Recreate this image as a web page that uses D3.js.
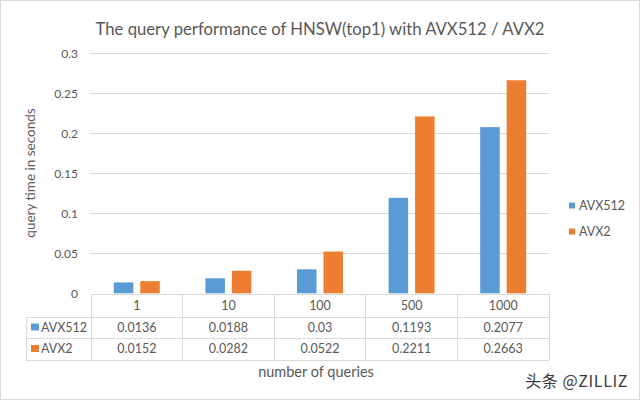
<!DOCTYPE html>
<html><head><meta charset="utf-8">
<script src="https://cdn.jsdelivr.net/npm/d3@7"></script>
<style>
html,body{margin:0;padding:0;background:#fff;}
text{font-family:Lato,"Open Sans",sans-serif;fill:#595959;}
</style></head>
<body><svg id="c" width="640" height="400"></svg>
<script>
const categories = ["1","10","100","500","1000"];
const seriesNames = ["AVX512","AVX2"];
const avx512 = [0.0136,0.0188,0.03,0.1193,0.2077];
const avx2 = [0.0152,0.0282,0.0522,0.2211,0.2663];
const yTicks = [0,0.05,0.1,0.15,0.2,0.25,0.3];
const colors = ["#5B9BD5","#ED7D31"];
const seriesValues = [avx512, avx2];

const svg = d3.select("#c");
svg.append("rect").attr("x",0.5).attr("y",0.5).attr("width",639).attr("height",399)
  .attr("fill","#fff").attr("stroke","#d9d9d9");

const L=91, R=549, T=53.3, B=293.3;
const x = d3.scaleBand().domain(categories).range([L,R]).paddingInner(0).paddingOuter(0);
const y = d3.scaleLinear().domain([0,0.3]).range([B,T]);
const bw = x.bandwidth();
const barW = bw*0.213, gap = bw*0.076;
const inner = d3.scaleOrdinal().domain(seriesNames)
  .range([bw/2 - gap/2 - barW, bw/2 + gap/2]);

// title
svg.append("text").attr("x",320).attr("y",35).attr("text-anchor","middle")
  .style("font-size","16.7px").text("The query performance of HNSW(top1) with AVX512 / AVX2");

// gridlines
svg.append("g").selectAll("line").data(yTicks.filter(d=>d>0)).join("line")
  .attr("x1",L-1).attr("x2",R).attr("y1",d=>Math.round(y(d))+0.5).attr("y2",d=>Math.round(y(d))+0.5)
  .attr("stroke","#d9d9d9").attr("stroke-width",1);

// y axis labels
const yAxis = d3.axisLeft(y).tickValues(yTicks).tickSize(0).tickPadding(0)
  .tickFormat(d=>d3.format("~g")(d));
const ga = svg.append("g").attr("transform",`translate(${L-13},0)`).call(yAxis);
ga.select(".domain").remove();
ga.selectAll("text").style("font-size","12px").attr("fill","#595959").style("font-family","Lato,sans-serif");

// bars
seriesNames.forEach((s,i)=>{
  svg.append("g").selectAll("rect").data(categories).join("rect")
    .attr("x",(c)=>x(c)+inner(s))
    .attr("width",barW)
    .attr("y",(c,j)=>y(seriesValues[i][j]))
    .attr("height",(c,j)=>B-y(seriesValues[i][j]))
    .attr("fill",colors[i]);
});

// data table
const tL=26, rowH=[294,317,338,360];
const tg = svg.append("g").attr("stroke","#d9d9d9").attr("stroke-width",1).attr("shape-rendering","crispEdges");
tg.append("line").attr("x1",L).attr("x2",R).attr("y1",rowH[0]).attr("y2",rowH[0]);
[1,2,3].forEach(k=>tg.append("line").attr("x1",tL).attr("x2",R).attr("y1",rowH[k]).attr("y2",rowH[k]));
tg.append("line").attr("x1",tL).attr("x2",tL).attr("y1",rowH[1]).attr("y2",rowH[3]);
const bounds = categories.map(c=>x(c)).concat([R]);
bounds.forEach(bx=>tg.append("line").attr("x1",bx).attr("x2",bx).attr("y1",rowH[0]).attr("y2",rowH[3]));

svg.append("g").selectAll("text").data(categories).join("text")
  .attr("x",c=>x(c)+bw/2).attr("y",(rowH[0]+rowH[1])/2).attr("dy","0.35em")
  .attr("text-anchor","middle").style("font-size","12.5px").text(c=>c);

seriesNames.forEach((s,i)=>{
  const cy=(rowH[i+1]+rowH[i+2])/2;
  svg.append("rect").attr("x",31).attr("y",cy-4).attr("width",8).attr("height",7).attr("fill",colors[i]);
  svg.append("text").attr("x",41).attr("y",cy).attr("dy","0.35em").style("font-size","12.5px").text(s);
  svg.append("g").selectAll("text").data(categories).join("text")
    .attr("x",c=>x(c)+bw/2).attr("y",cy).attr("dy","0.35em").attr("text-anchor","middle")
    .style("font-size","12.5px").text((c,j)=>String(seriesValues[i][j]));
});

// legend
seriesNames.forEach((s,i)=>{
  const cy = 205.5 + i*26;
  svg.append("rect").attr("x",569).attr("y",cy-3).attr("width",6).attr("height",6).attr("fill",colors[i]);
  svg.append("text").attr("x",579).attr("y",cy).attr("dy","0.35em").style("font-size","12.5px").text(s);
});

// axis titles
svg.append("text").attr("transform","translate(35,173) rotate(-90)").attr("text-anchor","middle")
  .style("font-size","13.5px").text("query time in seconds");
svg.append("text").attr("x",316).attr("y",372).attr("dy","0.35em").attr("text-anchor","middle")
  .style("font-size","14.5px").text("number of queries");

// watermark
svg.append("text").attr("x",628).attr("y",381).attr("dy","0.35em").attr("text-anchor","end")
  .style("font-size","16px").style("letter-spacing","0.6px").style("font-family","'Noto Sans CJK SC',sans-serif").style("fill","#3a3a3a")
  .text("头条 @ZILLIZ");
</script></body></html>
